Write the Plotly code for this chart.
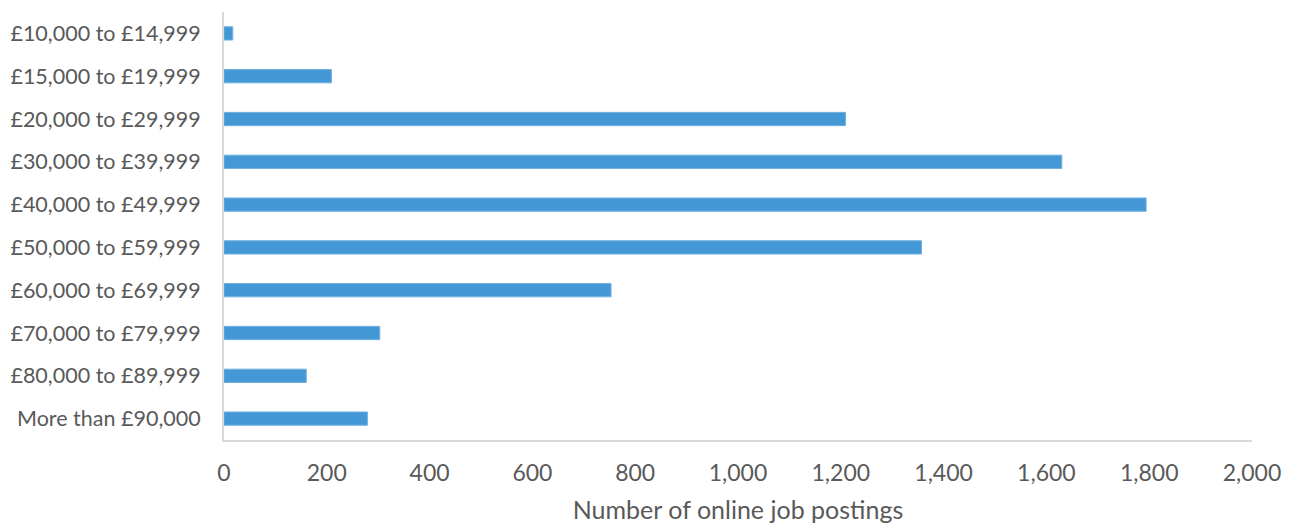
import plotly.graph_objects as go

categories = ["£10,000 to £14,999", "£15,000 to £19,999", "£20,000 to £29,999",
              "£30,000 to £39,999", "£40,000 to £49,999", "£50,000 to £59,999",
              "£60,000 to £69,999", "£70,000 to £79,999", "£80,000 to £89,999",
              "More than £90,000"]
postings = [17, 209, 1209, 1630, 1794, 1357, 753, 303, 160, 279]
x_ticks = [0, 200, 400, 600, 800, 1000, 1200, 1400, 1600, 1800, 2000]
x_tick_labels = ["0", "200", "400", "600", "800", "1,000", "1,200", "1,400", "1,600", "1,800", "2,000"]

fig = go.Figure(go.Bar(
    x=postings, y=categories, orientation="h",
    marker=dict(color="#4398D5", line=dict(color="#6FB0E0", width=1)),
))

font_family = "Lato, 'Open Sans', sans-serif"
fig.update_layout(
    width=1298, height=524,
    margin=dict(l=216, r=54, t=4, b=92),
    plot_bgcolor="white", paper_bgcolor="white",
    bargap=0.69,
    showlegend=False,
    font=dict(family=font_family, size=21.5, color="#595959"),
    xaxis=dict(
        range=[0, 2000], tickvals=x_ticks, ticktext=x_tick_labels,
        showgrid=False, zeroline=False, showline=True, linecolor="#D9D9D9", linewidth=2,
        ticks="", ticklabelstandoff=11, automargin=False,
        tickfont=dict(size=23),
        title=dict(text="Number of online job postings", font=dict(size=25, color="#595959"), standoff=17),
    ),
    yaxis=dict(
        categoryorder="array", categoryarray=categories, autorange="reversed",
        showgrid=False, zeroline=False, showline=True, linecolor="#D9D9D9", linewidth=2,
        ticks="", ticklabelstandoff=17, automargin=False,
    ),
)

fig.write_html("out.html")
